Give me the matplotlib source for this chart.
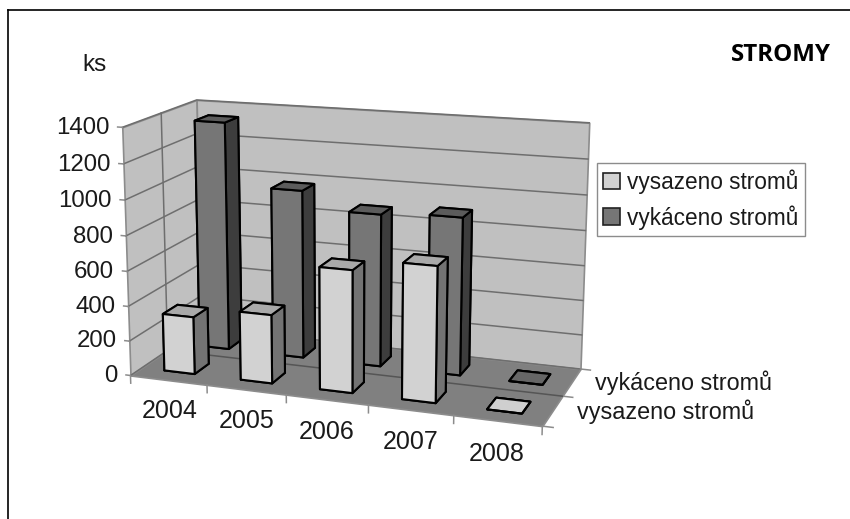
import matplotlib

matplotlib.use("Agg")
import matplotlib.pyplot as plt
import numpy as np
from matplotlib.lines import Line2D
from matplotlib.patches import Patch
from mpl_toolkits.mplot3d import proj3d
from mpl_toolkits.mplot3d.art3d import Poly3DCollection

plt.rcParams["font.family"] = ["Liberation Sans", "DejaVu Sans"]

years = ["2004", "2005", "2006", "2007", "2008"]
series_names = ["vysazeno stromů", "vykáceno stromů"]
vysazeno = [330, 390, 685, 750, 0]
vykaceno = [1340, 980, 880, 900, 0]
y_ticks = [0, 200, 400, 600, 800, 1000, 1200, 1400]

WIDTH, HEIGHT = 850, 519
ZMAX = y_ticks[-1]
XMAX = len(years)
YMAX = len(series_names)

# (front, right side, top) shades per series
BAR_SHADES = [("#d2d2d2", "#737373", "#a9a9a9"), ("#767676", "#3d3d3d", "#5c5c5c")]
FLAT_SHADES = ["#cfcfcf", "#666666"]
WALL = "#c0c0c0"
FLOOR = "#808080"
GRID = "#6e6e6e"
AXIS = "#8c8c8c"
TEXT = "#1a1a1a"


def camera_matrix():
    # fit the Excel style perspective from where the box corners sit in the image
    model = [
        (0, 0, 0), (0, 0, ZMAX), (0, YMAX, ZMAX), (0, YMAX, 0),
        (XMAX, YMAX, ZMAX), (XMAX, YMAX, 0), (XMAX, 0, 0),
    ]
    image = [
        (132, 375), (121, 127), (198, 100), (200, 328),
        (589, 123), (581, 368), (542, 427),
    ]
    rows, rhs = [], []
    for (x, y, z), (u, v) in zip(model, image):
        rows.append([x, y, z, 1, 0, 0, 0, 0, -u * x, -u * y, -u * z])
        rows.append([0, 0, 0, 0, x, y, z, 1, -v * x, -v * y, -v * z])
        rhs += [u, v]
    p = np.linalg.lstsq(np.array(rows, float), np.array(rhs, float), rcond=None)[0]
    return np.array(
        [
            [p[0], p[1], p[2], p[3]],
            [p[4], p[5], p[6], p[7]],
            [-0.15, 1, -0.0005, 0],  # only used to sort faces
            [p[8], p[9], p[10], 1],
        ]
    )


fig = plt.figure(figsize=(WIDTH / 100, HEIGHT / 100), dpi=100, facecolor="white")
ax = fig.add_axes(
    [0, (HEIGHT - WIDTH) / HEIGHT, 1, WIDTH / HEIGHT],
    projection="3d",
    computed_zorder=False,
    proj_type="ortho",  # stops Line3D clipping, the real camera is M below
)
ax.set_axis_off()
ax.patch.set_visible(False)
ax.set_xticks([])
ax.set_yticks([])
ax.set_zticks([])
M = camera_matrix()
ax.get_proj = lambda: M


def label(x, y, z, text, **kwargs):
    u, v, _ = proj3d.proj_transform(x, y, z, M)
    ax.text2D(u, v, text, transform=ax.transData, color=TEXT, va="center", **kwargs)


# walls and floor
left_wall = [(0, 0, 0), (0, YMAX, 0), (0, YMAX, ZMAX), (0, 0, ZMAX)]
back_wall = [(0, YMAX, 0), (XMAX, YMAX, 0), (XMAX, YMAX, ZMAX), (0, YMAX, ZMAX)]
floor = [(0, 0, 0), (XMAX, 0, 0), (XMAX, YMAX, 0), (0, YMAX, 0)]
for verts, color in [(left_wall, WALL), (back_wall, WALL), (floor, FLOOR)]:
    wall = Poly3DCollection([verts], facecolor=color, edgecolor=AXIS, linewidth=1.2, zorder=1)
    ax.add_collection3d(wall)

# gridlines and ticks
for tick in y_ticks:
    ax.plot([0, 0, XMAX], [0, YMAX, YMAX], [tick, tick, tick], color=GRID, lw=1.1, zorder=2)
    ax.plot([-0.06, 0], [0, 0], [tick, tick], color=AXIS, lw=1.1, zorder=2)
    label(-0.17, 0, tick - 10, str(tick), ha="right", fontsize=17.3)
for i in range(XMAX + 1):
    ax.plot([i, i], [0, 0], [0, -45], color=AXIS, lw=1.1, zorder=2)
for j in range(YMAX + 1):
    ax.plot([XMAX, XMAX + 0.12], [j, j], [0, 0], color=AXIS, lw=1.1, zorder=2)
# grid at the series boundary, on the side wall and across the floor
ax.plot([0, 0], [1, 1], [0, ZMAX], color=GRID, lw=1.1, zorder=2)
ax.plot([0, XMAX], [1, 1], [0, 0], color="#555555", lw=1.1, zorder=3)

# bars, back row first
for s, values in reversed(list(enumerate([vysazeno, vykaceno]))):
    front, side, top = BAR_SHADES[s]
    for i, value in enumerate(values):
        top_color = top if value > 0 else FLAT_SHADES[s]
        # bar3d face order: bottom, top, front, back, left, right
        colors = [front, top_color, front, front, side, side]
        ax.bar3d(
            i + 0.3, s + 0.3, 0, 0.4, 0.4, value,
            color=colors, shade=False, edgecolor="black", linewidth=1.5,
            zorder=10 + (1 - s) * 10 + i,
        )

# category labels
for i, year in enumerate(years):
    label(i + 0.5, 0, -180, year, ha="center", fontsize=18)
for j, name in enumerate(series_names):
    label(XMAX + 0.28, j + 0.5, 12, name, ha="left", fontsize=16.8)

fig.text(94.5 / WIDTH, 1 - 65 / HEIGHT, "ks", ha="center", va="center", fontsize=17.5, color=TEXT)
fig.text(
    831 / WIDTH, 1 - 55 / HEIGHT, "STROMY", ha="right", va="center",
    fontsize=17.4, fontweight="bold", family="Open Sans", color="black",
)

handles = [Patch(facecolor=BAR_SHADES[s][0], edgecolor="#222222", linewidth=1.2) for s in range(2)]
fig.legend(
    handles, series_names, loc="upper left",
    bbox_to_anchor=(597 / WIDTH, 1 - 163 / HEIGHT), borderaxespad=0,
    fontsize=16.3, fancybox=False, framealpha=1, edgecolor="#8c8c8c",
    handlelength=0.75, handleheight=0.75, handletextpad=0.3,
    borderpad=0.28, labelspacing=0.49, labelcolor=TEXT,
)

# page frame, open at the bottom and on the right
for xs, ys in [((7.5, 7.5), (519, 9.5)), ((7.5, 850), (9.5, 9.5))]:
    fig.add_artist(
        Line2D(
            [x / WIDTH for x in xs], [1 - y / HEIGHT for y in ys],
            color="black", lw=1.2, transform=fig.transFigure,
        )
    )

# 2D view in image pixels, y going down
ax.viewLim.intervalx = (0, WIDTH)
ax.viewLim.intervaly = (WIDTH, 0)

fig.savefig("out.png", dpi=100)
